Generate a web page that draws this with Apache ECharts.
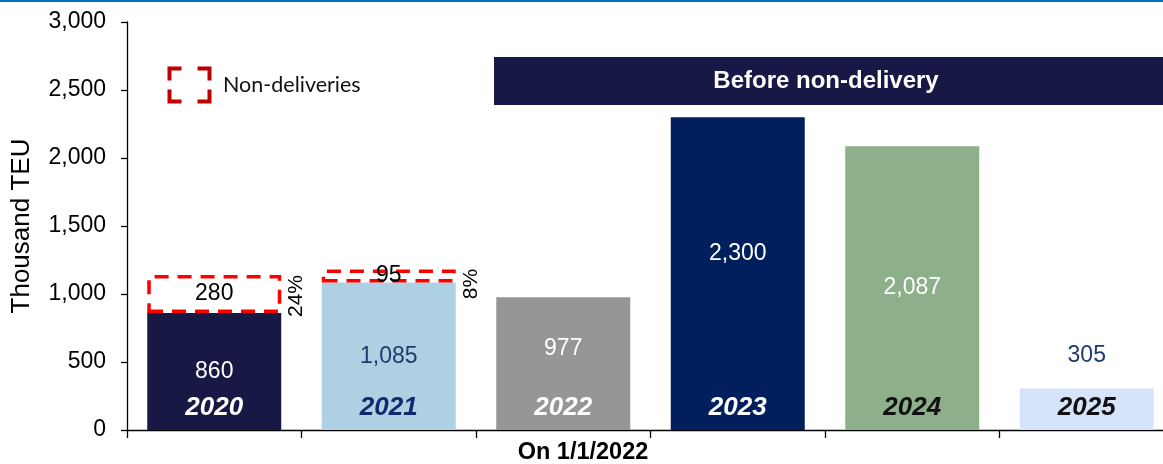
<!DOCTYPE html>
<html>
<head>
<meta charset="utf-8">
<script src="https://cdn.jsdelivr.net/npm/echarts@6/dist/echarts.min.js"></script>
<style>
  html, body { margin: 0; padding: 0; background: #ffffff; overflow: hidden; width: 1163px; height: 464px; }
  /* the plot runs slightly past the right edge of the page */
  #chart { width: 1174px; height: 464px; }
</style>
</head>
<body>
<div id="chart"></div>
<script>
// Container volumes by delivery year (thousand TEU), as of 1/1/2022
var years = ['2020', '2021', '2022', '2023', '2024', '2025'];
var volumes = [860, 1085, 977, 2300, 2087, 305];
var nonDeliveries = [280, 95, null, null, null, null];
var nonDeliveryShare = ['24%', '8%', '', '', '', ''];
var yTicks = [0, 500, 1000, 1500, 2000, 2500, 3000];

var FONT = '"Liberation Sans", Arial, sans-serif';

// Bar fills and label colours, one per year
var barColors = ['#171844', '#aed0e3', '#969696', '#001f5c', '#8db08b', '#d5e3fb'];
var valueColors = ['#ffffff', '#1f3a6e', '#ffffff', '#ffffff', '#ffffff', '#1f3a6e'];
var yearColors = ['#ffffff', '#13286b', '#ffffff', '#ffffff', '#111111', '#111111'];
// Vertical nudges for the value labels and share labels (px, downward positive)
var valueShift = [0, 0, -15, -20, 0, 0];
var shareShift = [2, 8, 0, 0, 0, 0];

var fmt = function (v) { return v.toLocaleString('en-US'); };

var chart = echarts.init(document.getElementById('chart'), null, { renderer: 'canvas' });

var mainData = volumes.map(function (v, i) {
  var item = {
    value: v,
    itemStyle: { color: barColors[i] },
    label: { color: valueColors[i], offset: [0, valueShift[i]] }
  };
  if (i === volumes.length - 1) {
    item.label.position = 'top';
    item.label.distance = 21;
  }
  return item;
});

var yearData = volumes.map(function (v, i) {
  return { value: v, label: { color: yearColors[i] } };
});

// share labels are rotated 90deg, so their offset is given in the rotated frame
var shareData = nonDeliveries.map(function (v, i) {
  return { value: v, label: { offset: [-shareShift[i], 0] } };
});

var option = {
  animation: false,
  backgroundColor: '#ffffff',
  grid: { left: 127, right: 0, top: 22, bottom: 34, containLabel: false, outerBoundsMode: 'none' },
  xAxis: {
    type: 'category',
    data: years,
    boundaryGap: true,
    axisLine: { lineStyle: { color: '#000000', width: 1.3 } },
    axisTick: { show: true, length: 8, alignWithLabel: false, lineStyle: { color: '#000000', width: 1.3 } },
    axisLabel: { show: false },
    splitLine: { show: false }
  },
  yAxis: {
    type: 'value',
    min: yTicks[0],
    max: yTicks[yTicks.length - 1],
    interval: 500,
    name: 'Thousand TEU',
    nameLocation: 'middle',
    nameGap: 92,
    nameTextStyle: { fontFamily: FONT, fontSize: 26, color: '#000000' },
    axisLine: { show: true, lineStyle: { color: '#000000', width: 1.3 } },
    axisTick: { show: true, length: 6, lineStyle: { color: '#000000', width: 1.3 } },
    axisLabel: {
      margin: 21,
      fontFamily: FONT,
      fontSize: 23,
      color: '#000000',
      formatter: function (v) { return fmt(v); }
    },
    splitLine: { show: false }
  },
  series: [
    {
      name: 'Volume',
      type: 'bar',
      stack: 'main',
      barWidth: 134,
      barGap: '-100%',
      data: mainData,
      label: {
        show: true,
        position: 'inside',
        fontFamily: FONT,
        fontSize: 23,
        formatter: function (p) { return fmt(p.value); }
      },
      z: 2
    },
    {
      name: 'Non-deliveries',
      type: 'bar',
      stack: 'main',
      barWidth: 134,
      data: nonDeliveries,
      itemStyle: {
        color: '#ffffff',
        borderColor: '#ff0000',
        borderWidth: 3.5,
        borderType: [14, 9]
      },
      label: {
        show: true,
        position: 'inside',
        fontFamily: FONT,
        fontSize: 23,
        color: '#000000',
        formatter: function (p) { return p.value == null ? '' : fmt(p.value); }
      },
      z: 3
    },
    {
      name: 'Year',
      type: 'bar',
      stack: 'overlay',
      barWidth: 134,
      barGap: '-100%',
      data: yearData,
      itemStyle: { color: 'rgba(0,0,0,0)' },
      label: {
        show: true,
        position: 'insideBottom',
        distance: 9,
        fontFamily: FONT,
        fontSize: 26,
        fontWeight: 'bold',
        fontStyle: 'italic',
        formatter: function (p) { return years[p.dataIndex]; }
      },
      z: 4
    },
    {
      name: 'Share',
      type: 'bar',
      stack: 'overlay',
      barWidth: 134,
      data: shareData,
      itemStyle: { color: 'rgba(0,0,0,0)' },
      label: {
        show: true,
        position: 'right',
        distance: 15,
        rotate: 90,
        align: 'center',
        verticalAlign: 'middle',
        fontFamily: FONT,
        fontSize: 21,
        color: '#000000',
        formatter: function (p) { return nonDeliveryShare[p.dataIndex]; }
      },
      z: 4
    }
  ],
  graphic: [
    // thin accent rule across the top edge
    { type: 'rect', left: 0, top: 0, shape: { width: 1174, height: 2 }, style: { fill: '#0070c0' }, silent: true },
    // banner over the forward years
    { type: 'rect', left: 494, top: 57, shape: { width: 680, height: 48 }, style: { fill: '#181846' }, silent: true },
    {
      type: 'text', x: 826, y: 81,
      style: {
        text: 'Before non-delivery', fill: '#ffffff',
        font: 'bold 24px ' + FONT, align: 'center', verticalAlign: 'middle'
      },
      silent: true
    },
    // legend: dashed-corner marker and caption
    {
      type: 'group', left: 167, top: 66, silent: true,
      children: [
        { type: 'polyline', shape: { points: [[2, 14], [2, 2], [14, 2]] }, style: { stroke: '#c00000', lineWidth: 4, fill: null } },
        { type: 'polyline', shape: { points: [[30, 2], [42, 2], [42, 14]] }, style: { stroke: '#c00000', lineWidth: 4, fill: null } },
        { type: 'polyline', shape: { points: [[2, 23], [2, 35], [14, 35]] }, style: { stroke: '#c00000', lineWidth: 4, fill: null } },
        { type: 'polyline', shape: { points: [[30, 35], [42, 35], [42, 23]] }, style: { stroke: '#c00000', lineWidth: 4, fill: null } }
      ]
    },
    {
      type: 'text', x: 223, y: 85,
      style: {
        text: 'Non-deliveries', fill: '#111111',
        font: '21.5px Lato, "Open Sans", sans-serif', align: 'left', verticalAlign: 'middle'
      },
      silent: true
    },
    // x-axis caption
    {
      type: 'text', x: 583, y: 453,
      style: {
        text: 'On 1/1/2022', fill: '#000000',
        font: 'bold 23.5px ' + FONT, align: 'center', verticalAlign: 'middle'
      },
      silent: true
    }
  ]
};

chart.setOption(option);
</script>
</body>
</html>
